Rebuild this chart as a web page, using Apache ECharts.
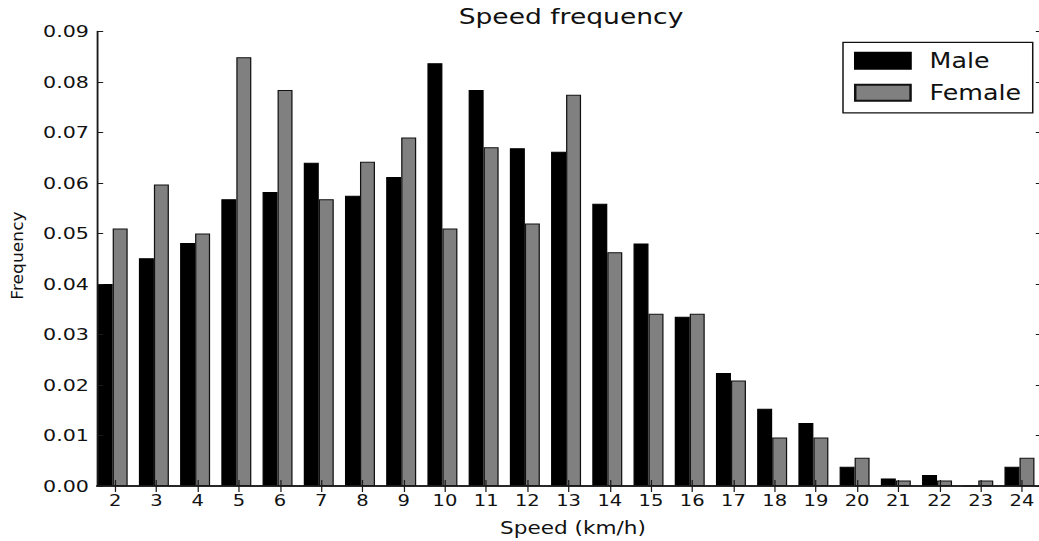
<!DOCTYPE html>
<html>
<head>
<meta charset="utf-8">
<script src="https://cdn.jsdelivr.net/npm/echarts@6/dist/echarts.min.js"></script>
<style>
  html, body { margin: 0; padding: 0; overflow: hidden; background: #fff; width: 1039px; height: 541px; }
  /* the figure is drawn narrower and then widened horizontally */
  #chart { width: 850px; height: 541px; transform: scaleX(1.235); transform-origin: 0 0; }
</style>
</head>
<body>
<div id="chart"></div>
<script>
// Speed bins (km/h)
const speeds = [2, 3, 4, 5, 6, 7, 8, 9, 10, 11, 12, 13, 14, 15, 16, 17, 18, 19, 20, 21, 22, 23, 24];

// Relative frequency per speed bin
const male = [0.0400, 0.0451, 0.0481, 0.0568, 0.0582, 0.0640, 0.0575, 0.0612, 0.0837, 0.0784, 0.0669, 0.0662,
              0.0559, 0.0480, 0.0335, 0.0224, 0.0153, 0.0125, 0.0038, 0.0015, 0.0022, 0.0000, 0.0038];
const female = [0.0510, 0.0597, 0.0500, 0.0849, 0.0784, 0.0568, 0.0642, 0.0690, 0.0510, 0.0671, 0.0520, 0.0775,
                0.0463, 0.0341, 0.0341, 0.0209, 0.0096, 0.0096, 0.0056, 0.0011, 0.0011, 0.0011, 0.0056];

// Frequency axis ticks
const yTicks = [0, 0.01, 0.02, 0.03, 0.04, 0.05, 0.06, 0.07, 0.08, 0.09];

const SX = 1.235;            // horizontal stretch applied by CSS
const FONT = 'DejaVu Sans';
const INK = '#111';
const X_MIN = 1.559, X_MAX = 24.485;

const chart = echarts.init(document.getElementById('chart'), null, { renderer: 'svg', width: 850, height: 541 });

const axisLine = { show: true, lineStyle: { color: '#1a1a1a', width: 1.5 } };

function xAxisBase(pos, showLabels) {
  return {
    type: 'value', position: pos, min: X_MIN, max: X_MAX, z: 5,
    axisLine: axisLine,
    splitLine: { show: false },
    axisTick: { show: true, inside: true, length: 6, customValues: speeds, lineStyle: { color: '#1a1a1a', width: 1 } },
    axisLabel: { show: showLabels, customValues: speeds, margin: 7, color: INK, fontFamily: FONT, fontSize: 15.8 }
  };
}

function yAxisBase(pos, showLabels) {
  return {
    type: 'value', position: pos, min: yTicks[0], max: yTicks[yTicks.length - 1], interval: 0.01, z: 5,
    axisLine: axisLine,
    splitLine: { show: false },
    axisTick: { show: true, inside: true, length: 5, lineStyle: { color: '#1a1a1a', width: 1 } },
    axisLabel: { show: showLabels, margin: 6.5, color: INK, fontFamily: FONT, fontSize: 16.7,
                 formatter: v => v.toFixed(2) }
  };
}

const option = {
  animation: false,
  backgroundColor: '#fff',
  grid: { left: 78.54, right: 850 - 843.7, top: 31.5, bottom: 541 - 486, containLabel: false },
  xAxis: [xAxisBase('bottom', true), xAxisBase('top', false)],
  yAxis: [yAxisBase('left', true), yAxisBase('right', false)],
  legend: {
    data: ['Male', 'Female'],
    orient: 'vertical',
    left: 843 / SX, top: 42.3,
    padding: [8, 9.4, 9.5, 8.9],
    itemWidth: 44.8, itemHeight: 16, itemGap: 11,
    borderColor: '#111', borderWidth: 1.2, borderRadius: 0,
    backgroundColor: '#fff',
    icon: 'rect',
    textStyle: { color: INK, fontFamily: FONT, fontSize: 20.5, padding: [0, 0, 0, 10.4] }
  },
  graphic: [
    { type: 'text', x: 571 / SX, y: 16.5, silent: true,
      style: { text: 'Speed frequency', fill: INK, font: '21.5px "DejaVu Sans"', textAlign: 'center', textVerticalAlign: 'middle' } },
    { type: 'text', x: 573 / SX, y: 528, silent: true,
      style: { text: 'Speed (km/h)', fill: INK, font: '17.5px "DejaVu Sans"', textAlign: 'center', textVerticalAlign: 'middle' } },
    { type: 'text', x: 18.3 / SX, y: 255.5, rotation: Math.PI / 2, scaleX: 1.38, silent: true,
      style: { text: 'Frequency', fill: INK, font: '12.4px "DejaVu Sans"', textAlign: 'center', textVerticalAlign: 'middle' } }
  ],
  series: [
    { name: 'Male', type: 'bar', barWidth: 15 / SX, barGap: 0,
      itemStyle: { color: '#000', borderColor: '#000', borderWidth: 1 },
      data: speeds.map((s, i) => [s, male[i]]) },
    { name: 'Female', type: 'bar', barWidth: 15 / SX, barGap: 0,
      itemStyle: { color: '#808080', borderColor: '#111', borderWidth: 1 },
      data: speeds.map((s, i) => [s, female[i]]) },
    // narrow empty column that keeps each pair slightly left of its tick
    { name: 'pad', type: 'bar', barWidth: 5 / SX, barGap: 0, data: [] }
  ]
};

chart.setOption(option);
</script>
</body>
</html>
